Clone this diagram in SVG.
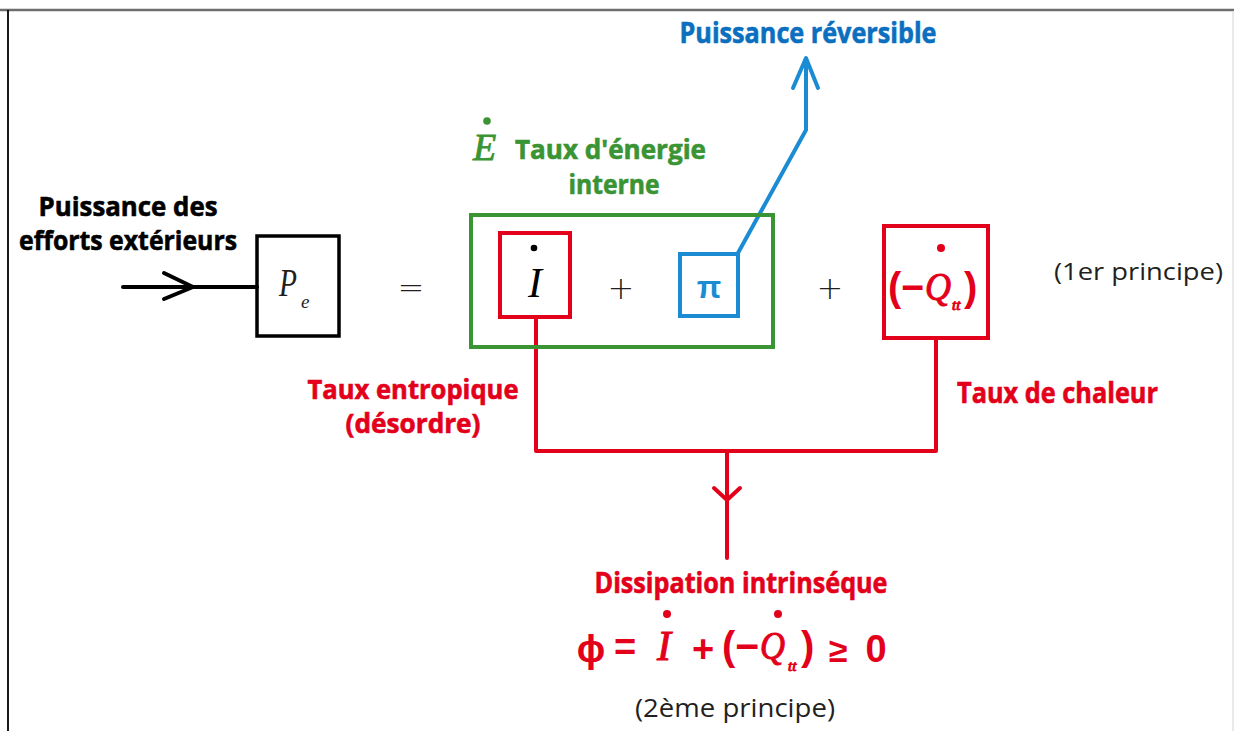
<svg xmlns="http://www.w3.org/2000/svg" width="1234" height="731" viewBox="0 0 1234 731">
  <defs>
    <style>
      .lbl { font-family: "Open Sans", "Liberation Sans", sans-serif; font-weight: 700; stroke-width: 0.6; paint-order: stroke; }
      .reg { font-family: "Open Sans", "Liberation Sans", sans-serif; font-weight: 400; fill: #231f20; }
      .math { font-family: "Liberation Serif", "DejaVu Serif", serif; font-style: italic; }
      .op { font-family: "DejaVu Sans", "Liberation Sans", sans-serif; font-weight: 300; fill: #231f20; }
      .red { fill: #e3001b; stroke: #e3001b; }
      .green { fill: #3a9433; stroke: #3a9433; }
      .blue { fill: #0b6fbf; stroke: #0b6fbf; }
      .black { fill: #000; stroke: #000; }
      .boxk { fill: none; stroke: #000; stroke-width: 3.5; }
      .boxr { fill: none; stroke: #e3001b; stroke-width: 4; }
      .boxg { fill: none; stroke: #3a9433; stroke-width: 4; }
      .boxb { fill: none; stroke: #1b8cd4; stroke-width: 4; }
      .ln { fill: none; stroke-width: 4; stroke-linecap: round; stroke-linejoin: round; }
      .fb { font-family: "Liberation Sans", sans-serif; font-weight: 700; fill: #e3001b; }
      .fi { font-family: "Liberation Serif", serif; font-style: italic; fill: #e3001b; stroke: #e3001b; stroke-width: 1; }
    </style>
  </defs>
  <rect x="0" y="0" width="1234" height="731" fill="#ffffff"/>
  <g id="frame">
    <line x1="0" y1="10" x2="1234" y2="10" stroke="#6e6e6e" stroke-width="2.5"/>
    <line x1="8" y1="10" x2="8" y2="731" stroke="#000" stroke-width="1.8"/>
    <line x1="1233" y1="11" x2="1233" y2="731" stroke="#e2e2e2" stroke-width="1.5"/>
  </g>

  <g id="connectors">
    <line class="ln" x1="123" y1="287" x2="257" y2="287" stroke="#000" stroke-linecap="butt"/>
    <polyline class="ln" points="164,273 193,287 164,299" stroke="#000"/>
    <polyline class="ln" points="738,253 806,130 806,59" stroke="#1b8cd4" stroke-linecap="butt"/>
    <polyline class="ln" points="793,88 806,58 818,88" stroke="#1b8cd4"/>
    <polyline class="ln" points="536,318 536,451 936,451 936,339" stroke="#e3001b" stroke-linecap="butt" stroke-linejoin="miter"/>
    <line class="ln" x1="727" y1="451" x2="727" y2="558" stroke="#e3001b" stroke-linecap="butt"/>
    <polyline class="ln" points="714,488 727,500 740,488" stroke="#e3001b"/>
  </g>

  <g id="label-puissance-efforts">
    <text class="lbl black" x="128" y="216" font-size="27" text-anchor="middle" textLength="179" lengthAdjust="spacingAndGlyphs">Puissance des</text>
    <text class="lbl black" x="128" y="250" font-size="27" text-anchor="middle" textLength="218" lengthAdjust="spacingAndGlyphs">efforts extérieurs</text>
  </g>

  <g id="node-pe">
    <rect class="boxk" x="257" y="236" width="82" height="100"/>
    <text class="math" x="279" y="296" font-size="40" fill="#231f20" textLength="18" lengthAdjust="spacingAndGlyphs">P</text>
    <text class="math" x="301" y="308" font-size="19" fill="#231f20">e</text>
  </g>

  <g id="equals">
    <text class="op" x="411" y="298" font-size="32" text-anchor="middle">=</text>
  </g>

  <g id="node-energie">
    <rect class="boxg" x="471" y="215" width="302" height="132"/>
    <circle cx="487" cy="121" r="3.8" fill="#3a9433"/>
    <text class="math" x="473" y="160" font-size="38" fill="#3a9433" stroke="#3a9433" stroke-width="0.8">E</text>
    <text class="lbl green" x="515" y="159" font-size="26" textLength="191" lengthAdjust="spacingAndGlyphs">Taux d'énergie</text>
    <text class="lbl green" x="614" y="194" font-size="26" text-anchor="middle" textLength="91" lengthAdjust="spacingAndGlyphs">interne</text>
  </g>

  <g id="node-I">
    <rect class="boxr" x="500" y="233" width="70" height="84"/>
    <circle cx="534" cy="248" r="3.3" fill="#000"/>
    <text class="math" x="535" y="297" font-size="42" text-anchor="middle" fill="#000">I</text>
  </g>

  <g id="plus1">
    <text class="op" x="621" y="299" font-size="32" text-anchor="middle">+</text>
  </g>

  <g id="node-pi">
    <rect class="boxb" x="680" y="254" width="58" height="62"/>
    <text x="709" y="298" font-size="32" text-anchor="middle" font-family="Liberation Sans, sans-serif" font-weight="700" fill="#1b8cd4">π</text>
  </g>

  <g id="plus2">
    <text class="op" x="830" y="299" font-size="32" text-anchor="middle">+</text>
  </g>

  <g id="node-Q">
    <rect class="boxr" x="884" y="226" width="104" height="112"/>
    <circle cx="941" cy="248" r="4" fill="#e3001b"/>
    <text class="fb" x="888" y="301" font-size="40">(</text>
    <text class="fb" x="901" y="301" font-size="40" textLength="23" lengthAdjust="spacingAndGlyphs">−</text>
    <text class="fi" x="925" y="300" font-size="40" textLength="26" lengthAdjust="spacingAndGlyphs">Q</text>
    <text class="fi" x="952" y="310" font-size="15" stroke-width="0.4">tt</text>
    <text class="fb" x="964" y="301" font-size="40">)</text>
  </g>

  <g id="label-1er">
    <text class="reg" x="1054" y="280" font-size="23" textLength="169" lengthAdjust="spacingAndGlyphs">(1er principe)</text>
  </g>

  <g id="label-reversible">
    <text class="lbl blue" x="808" y="43" font-size="28" text-anchor="middle" textLength="257" lengthAdjust="spacingAndGlyphs">Puissance réversible</text>
  </g>

  <g id="label-entropique">
    <text class="lbl red" x="413" y="399" font-size="26" text-anchor="middle" textLength="211" lengthAdjust="spacingAndGlyphs">Taux entropique</text>
    <text class="lbl red" x="413" y="433" font-size="26" text-anchor="middle" textLength="135" lengthAdjust="spacingAndGlyphs">(désordre)</text>
  </g>

  <g id="label-chaleur">
    <text class="lbl red" x="957" y="403" font-size="28" textLength="201" lengthAdjust="spacingAndGlyphs">Taux de chaleur</text>
  </g>

  <g id="label-dissipation">
    <text class="lbl red" x="741" y="593" font-size="28" text-anchor="middle" textLength="293" lengthAdjust="spacingAndGlyphs">Dissipation intrinséque</text>
  </g>

  <g id="formula">
    <text class="fb" x="591" y="662" font-size="38" text-anchor="middle" font-family="DejaVu Sans, sans-serif">ϕ</text>
    <text class="fb" x="625" y="660" font-size="38" text-anchor="middle">=</text>
    <circle cx="667" cy="614" r="4" fill="#e3001b"/>
    <text class="fi" x="664" y="660" font-size="42" text-anchor="middle">I</text>
    <text class="fb" x="703" y="662" font-size="38" text-anchor="middle">+</text>
    <text class="fb" x="722" y="660" font-size="40">(</text>
    <text class="fb" x="735" y="660" font-size="40" textLength="24" lengthAdjust="spacingAndGlyphs">−</text>
    <text class="fi" x="760" y="659" font-size="40" textLength="25" lengthAdjust="spacingAndGlyphs">Q</text>
    <text class="fi" x="788" y="671" font-size="15" stroke-width="0.4">tt</text>
    <text class="fb" x="801" y="660" font-size="40">)</text>
    <circle cx="778" cy="614" r="4" fill="#e3001b"/>
    <text class="fb" x="838" y="662" font-size="34" text-anchor="middle" font-family="DejaVu Sans, sans-serif">≥</text>
    <text class="fb" x="876" y="662" font-size="38" text-anchor="middle">0</text>
  </g>

  <g id="label-2eme">
    <text class="reg" x="735" y="717" font-size="25" text-anchor="middle" textLength="200" lengthAdjust="spacingAndGlyphs">(2ème principe)</text>
  </g>
</svg>
